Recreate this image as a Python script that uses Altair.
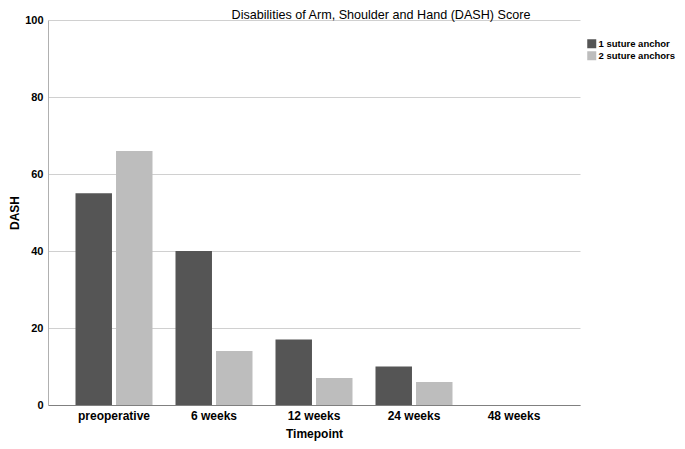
import altair as alt
import pandas as pd

timepoints = ["preoperative", "6 weeks", "12 weeks", "24 weeks", "48 weeks"]
groups = ["1 suture anchor", "2 suture anchors"]
one_anchor = [55, 40, 17, 10, None]
two_anchors = [66, 14, 7, 6, None]
title_text = "Disabilities of Arm, Shoulder and Hand (DASH) Score"

rows = []
for t, a, b in zip(timepoints, one_anchor, two_anchors):
    if a is not None:
        rows.append({"Timepoint": t, "Group": groups[0], "DASH": a})
    if b is not None:
        rows.append({"Timepoint": t, "Group": groups[1], "DASH": b})
df = pd.DataFrame(rows)

FONT = "Liberation Sans"

bars = alt.Chart(df).mark_bar().encode(
    x=alt.X("Timepoint:N", sort=timepoints,
            scale=alt.Scale(domain=timepoints, paddingInner=0.23, paddingOuter=0.275),
            axis=alt.Axis(title="Timepoint", labelAngle=0, ticks=False, labelPadding=5,
                          titlePadding=7, domainColor="#808080", labelFont=FONT, titleFont=FONT,
                          labelFontSize=12, titleFontSize=12, labelColor="#000000",
                          labelFontWeight="bold", titleColor="#000000", titleFontWeight="bold")),
    xOffset=alt.XOffset("Group:N", sort=groups,
                        scale=alt.Scale(paddingInner=0.1, paddingOuter=0)),
    y=alt.Y("DASH:Q", scale=alt.Scale(domain=[0, 100]),
            axis=alt.Axis(title="DASH", values=[0, 20, 40, 60, 80, 100], ticks=False,
                          labelPadding=5, titlePadding=3, gridColor="#d0d0d0",
                          domainColor="#b0b0b0", labelFont=FONT, titleFont=FONT,
                          labelFontSize=11, titleFontSize=12, labelColor="#000000",
                          labelFontWeight="bold", titleColor="#000000",
                          titleFontWeight="bold")),
    fill=alt.Fill("Group:N", sort=groups,
                  scale=alt.Scale(domain=groups, range=["#555555", "#bdbdbd"]),
                  legend=alt.Legend(title=None, orient="none", legendX=539, legendY=19,
                                    symbolType="square", symbolSize=81, labelFont=FONT,
                                    labelFontSize=9.5, labelFontWeight="bold", labelOffset=2,
                                    labelColor="#000000", rowPadding=1, symbolStrokeWidth=0)),
)

title = alt.Chart(pd.DataFrame({"t": [title_text]})).mark_text(
    font=FONT, fontSize=12.6, fontWeight="normal", color="#000000",
    align="center", baseline="top"
).encode(text="t:N", x=alt.value(333), y=alt.value(-11))

chart = alt.layer(bars, title).properties(
    width=532,
    height=385,
    autosize=alt.AutoSizeParams(type="none"),
    padding={"left": 40, "top": 12, "right": 97, "bottom": 36},
).configure_view(stroke=None).configure_axisX(grid=False)

chart.save("out.html", embed_options={"renderer": "svg", "actions": False})
